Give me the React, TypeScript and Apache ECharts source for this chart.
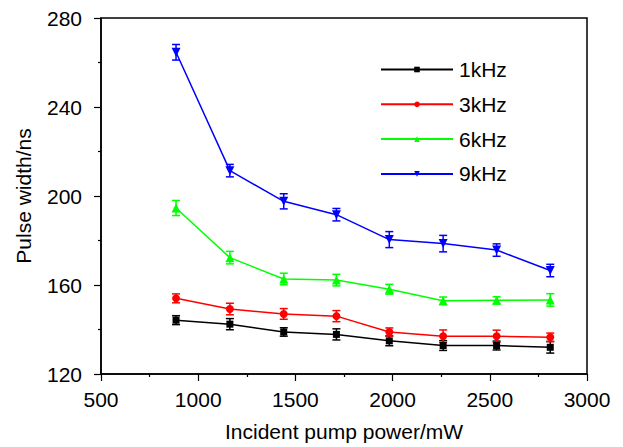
import React, { useEffect, useRef } from "react";
import * as echarts from "echarts";

const power = [886, 1163, 1440, 1711, 1983, 2260, 2535, 2811];

const names = ["1kHz", "3kHz", "6kHz", "9kHz"];
const colors = ["#000000", "#ff0000", "#00ff00", "#0000ff"];

const width1k = [144.2, 142.4, 138.9, 137.8, 134.9, 132.8, 132.8, 132.0];
const err1k = [2.0, 2.5, 1.9, 2.5, 2.2, 2.2, 2.0, 2.6];

const width3k = [154.0, 149.2, 147.0, 146.0, 138.9, 137.0, 137.0, 136.5];
const err3k = [2.0, 2.6, 2.4, 2.5, 1.8, 2.8, 2.7, 1.9];

const width6k = [194.6, 172.3, 162.7, 162.2, 158.1, 152.9, 153.1, 153.3];
const err6k = [3.4, 2.8, 2.6, 2.6, 2.2, 1.7, 1.6, 2.8];

const width9k = [264.6, 211.4, 197.6, 191.6, 180.4, 178.6, 175.7, 166.5];
const err9k = [3.5, 2.8, 3.4, 2.8, 3.6, 3.7, 2.8, 2.8];

const xTicks = { min: 500, max: 3000, interval: 500 };
const yTicks = { min: 120, max: 280, interval: 40 };

const allValues = [width1k, width3k, width6k, width9k];
const allErrors = [err1k, err3k, err6k, err9k];
const symbols = ["rect", "circle", "triangle", "triangle"];
const symbolRotates = [0, 0, 0, 180];
const symbolSizes = [7, 8, 9, 9];

const FONT = "Liberation Sans, Arial, Helvetica, sans-serif";

export default function App() {
  const ref = useRef<HTMLDivElement>(null);

  useEffect(() => {
    if (!ref.current) return;
    const chart = echarts.init(ref.current, null, { renderer: "svg" });

    const lineSeries = names.map((name, k) => ({
      name,
      type: "line",
      data: power.map((x, i) => [x, allValues[k][i]]),
      symbol: symbols[k],
      symbolRotate: symbolRotates[k],
      symbolSize: symbolSizes[k],
      itemStyle: { color: colors[k] },
      lineStyle: { color: colors[k], width: 1.5 },
      z: 3,
    }));

    const errSeries = names.map((name, k) => ({
      name: name + " error",
      type: "custom",
      data: power.map((x, i) => [x, allValues[k][i], allErrors[k][i]]),
      encode: { x: 0, y: 1 },
      z: 2,
      renderItem: (params: any, api: any) => {
        const x = api.value(0);
        const y = api.value(1);
        const e = api.value(2);
        const top = api.coord([x, y + e]);
        const bot = api.coord([x, y - e]);
        const hw = 4;
        const style = { stroke: colors[k], lineWidth: 1.5 };
        return {
          type: "group",
          children: [
            { type: "line", shape: { x1: top[0], y1: top[1], x2: bot[0], y2: bot[1] }, style },
            { type: "line", shape: { x1: top[0] - hw, y1: top[1], x2: top[0] + hw, y2: top[1] }, style },
            { type: "line", shape: { x1: bot[0] - hw, y1: bot[1], x2: bot[0] + hw, y2: bot[1] }, style },
          ],
        };
      },
    }));

    const axisCommon = {
      axisLine: { show: true, lineStyle: { color: "#000", width: 1.5 } },
      axisTick: { show: true, inside: false, length: 7, lineStyle: { color: "#000", width: 1.2 } },
      minorTick: { show: true, splitNumber: 2, length: 3, lineStyle: { color: "#000", width: 1.2 } },
      splitLine: { show: false },
      minorSplitLine: { show: false },
    };

    chart.setOption({
      animation: false,
      backgroundColor: "#fff",
      textStyle: { fontFamily: FONT },
      grid: {
        left: 101,
        right: 36,
        top: 18,
        bottom: 68,
        show: true,
        borderColor: "#000",
        borderWidth: 1.5,
        containLabel: false,
      },
      legend: {
        data: names,
        orient: "vertical",
        left: 375,
        top: 54,
        itemWidth: 72,
        itemHeight: 7,
        itemGap: 13.8,
        textStyle: { fontSize: 21, color: "#000", fontFamily: FONT, padding: [0, 0, 0, 1] },
      },
      xAxis: {
        type: "value",
        min: xTicks.min,
        max: xTicks.max,
        interval: xTicks.interval,
        name: "Incident pump power/mW",
        nameLocation: "middle",
        nameGap: 47,
        nameTextStyle: { fontSize: 21, color: "#000", fontFamily: FONT },
        axisLabel: { fontSize: 21, color: "#000", margin: 15, fontFamily: FONT, formatter: (v: number) => String(v) },
        ...axisCommon,
      },
      yAxis: {
        type: "value",
        min: yTicks.min,
        max: yTicks.max,
        interval: yTicks.interval,
        name: "Pulse width/ns",
        nameLocation: "middle",
        nameGap: 67,
        nameTextStyle: { fontSize: 21, color: "#000", fontFamily: FONT },
        axisLabel: { fontSize: 21, color: "#000", margin: 19, fontFamily: FONT },
        ...axisCommon,
      },
      series: [...errSeries, ...lineSeries],
    });

    return () => chart.dispose();
  }, []);

  return <div ref={ref} style={{ width: 623, height: 447, position: "absolute", left: 0, top: 0 }} />;
}
